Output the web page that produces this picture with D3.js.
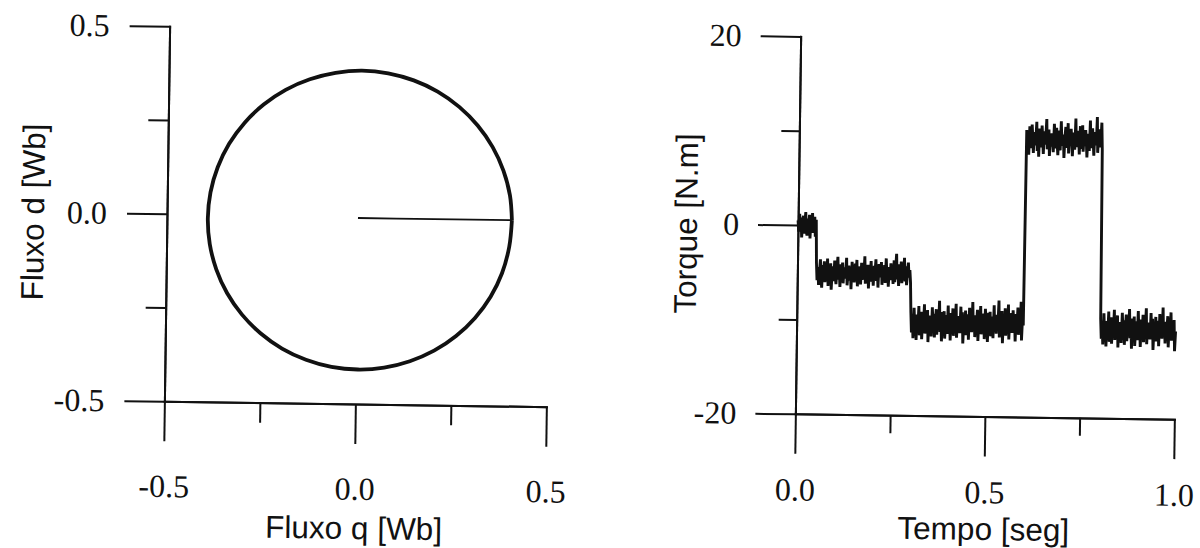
<!DOCTYPE html>
<html>
<head>
<meta charset="utf-8">
<script src="https://cdn.jsdelivr.net/npm/d3@7"></script>
<style>
  body { margin: 0; background: #fff; }
  .tick text { font-family: "Liberation Serif", "Times New Roman", serif; font-size: 32px; fill: #111; }
  .axis path, .axis line { stroke: #111; stroke-width: 2px; }
  .title { font-family: "Liberation Sans", Arial, sans-serif; font-size: 31.5px; fill: #111; }
</style>
</head>
<body>
<svg id="fig" width="1200" height="548"></svg>
<script>
// ---- Stator flux trajectory (q, d) [Wb]: build-up along q, then one turn ----
const fluxQ = [0.000, 0.100, 0.200, 0.300, 0.403,
  0.397, 0.379, 0.350, 0.310, 0.261, 0.204, 0.141, 0.074, 0.005,
  -0.064, -0.131, -0.194, -0.251, -0.300, -0.340, -0.369, -0.387, -0.393,
  -0.387, -0.369, -0.340, -0.300, -0.251, -0.194, -0.131, -0.064, 0.005,
  0.074, 0.141, 0.204, 0.261, 0.310, 0.350, 0.379, 0.397, 0.403];
const fluxD = [-0.004, -0.004, -0.004, -0.004, -0.004,
  0.062, 0.128, 0.190, 0.247, 0.296, 0.336, 0.365, 0.383, 0.389,
  0.382, 0.364, 0.335, 0.295, 0.246, 0.189, 0.126, 0.059, -0.010,
  -0.079, -0.146, -0.209, -0.266, -0.315, -0.355, -0.384, -0.402, -0.408,
  -0.402, -0.384, -0.355, -0.315, -0.266, -0.209, -0.146, -0.075, -0.004];
const fluxTicksMajor = [-0.5, 0.0, 0.5];
const fluxTicksMinor = [-0.25, 0.25];
const fluxTickLabels = ["-0.5", "0.0", "0.5"];

// ---- Electromagnetic torque [N.m] vs time [s], one array per load step ----
const stepTimes = [0, 0.050, 0.301, 0.600, 0.802, 1.0];
const torqueSeg0 = [0.5, -0.7, 1.2, -0.2, 0.8, -1.3, 0.3, 1.0, -0.9, 0.1, 1.4, -0.6, -1.1, 0.7, -0.3, 1.1,
  -1.4, 0.4, -0.5, 1.3, -0.8, 0.2, 0.9, -1.2, 0.6];
const torqueSeg1 = [-3.9, -5.8, -4.4, -6.3, -4.9, -3.6, -5.5, -6.6, -4.2, -5.1, -3.8, -6.0, -4.7, -5.6, -3.5,
  -6.4, -4.5, -5.3, -4.0, -6.8, -5.0, -4.3, -5.9, -3.7, -5.4, -6.2, -4.6, -3.3, -5.7, -4.8, -6.5, -4.1, -5.2,
  -3.9, -6.1, -4.4, -5.6, -4.9, -3.4, -6.3, -5.1, -4.2, -5.8, -4.7, -6.7, -3.8, -5.3, -4.5, -6.0, -4.0, -5.5,
  -3.6, -6.4, -4.8, -5.0, -4.3, -6.2, -3.9, -5.7, -4.6, -5.2, -3.2, -6.1, -4.9, -5.6, -4.1, -6.6, -4.4, -5.3,
  -3.7, -5.9, -4.8, -6.3, -4.2, -5.0, -3.5, -5.8, -4.6, -6.5, -4.0, -5.4, -4.9, -3.8, -6.2, -4.5, -5.5, -4.1,
  -6.0, -3.4, -5.1, -4.7, -6.4, -4.3, -5.7, -3.9, -5.2, -4.6, -6.1, -3.6, -5.9, -4.4, -2.9, -5.6, -4.8, -6.3,
  -4.0, -5.3, -3.7, -6.0, -4.5, -5.5, -3.3, -5.8, -4.2, -6.2, -4.9, -3.8, -5.4, -4.6, -5.9];
const torqueSeg2 = [-9.1, -11.2, -9.7, -11.8, -8.6, -10.6, -9.9, -12.0, -9.3, -10.9, -8.4, -11.5, -10.1, -9.0,
  -11.9, -9.6, -10.7, -8.2, -11.3, -9.8, -10.4, -8.8, -12.2, -9.4, -11.0, -9.9, -11.6, -8.5, -10.3, -9.2, -11.7,
  -10.0, -8.7, -11.4, -9.5, -10.8, -7.8, -11.1, -9.7, -12.1, -9.0, -10.5, -8.9, -11.8, -10.2, -9.3, -11.3, -8.3,
  -10.6, -9.8, -12.0, -9.1, -10.9, -8.6, -11.5, -9.6, -10.1, -8.1, -11.7, -9.4, -10.7, -9.9, -11.2, -8.4, -10.4,
  -9.0, -12.3, -9.7, -10.8, -8.8, -11.4, -10.0, -9.2, -11.9, -8.5, -10.5, -9.6, -11.1, -7.9, -10.9, -9.3, -11.6,
  -9.8, -10.2, -8.7, -12.0, -9.5, -10.7, -8.3, -11.3, -9.9, -10.6, -9.1, -11.8, -8.6, -10.3, -9.7, -12.1, -9.0,
  -11.0, -8.9, -11.5, -10.1, -9.4, -11.7, -8.2, -10.8, -9.6, -11.2, -9.2, -10.4, -7.7, -11.6, -9.8, -10.0, -8.8,
  -12.2, -9.3, -10.9, -8.5, -11.4, -9.9, -10.5, -8.1, -11.8, -9.5, -10.7, -9.0, -11.1, -8.7, -10.2, -9.7, -12.0,
  -9.1, -10.6, -8.4, -11.3, -9.6, -10.8, -7.8, -11.9, -9.4, -10.3];
const torqueSeg3 = [10.4, 8.3, 9.9, 7.8, 10.8, 9.0, 8.5, 11.0, 9.6, 8.0, 10.2, 8.8, 9.4, 11.3, 8.2, 9.8, 7.6,
  10.6, 9.2, 8.6, 10.9, 9.5, 7.9, 10.3, 8.9, 9.7, 11.6, 8.4, 9.1, 10.5, 7.7, 9.9, 8.7, 10.1, 9.3, 8.1, 11.1, 9.6,
  8.5, 10.7, 9.0, 7.8, 10.4, 9.4, 8.3, 11.4, 9.2, 8.8, 10.0, 7.5, 9.7, 10.8, 8.6, 9.1, 11.2, 8.0, 9.8, 8.9, 10.6,
  9.3, 7.7, 10.2, 9.5, 8.4, 11.7, 9.0, 8.7, 10.4, 9.6, 7.9, 10.9, 8.5, 9.2, 11.0, 8.2, 9.9, 8.8, 10.5, 9.4, 7.6,
  10.1, 9.7, 8.3, 11.5, 9.1, 8.6, 10.7, 9.3, 7.8, 10.3, 9.5, 8.9, 11.9, 8.1, 9.8, 10.6, 8.7, 9.2, 11.3, 8.4];
const torqueSeg4 = [-9.5, -11.6, -10.1, -12.2, -8.9, -11.0, -10.4, -12.4, -9.7, -11.3, -8.7, -11.9, -10.6, -9.3,
  -12.1, -10.0, -11.1, -8.5, -11.7, -10.2, -10.8, -9.1, -12.5, -9.8, -11.4, -10.3, -12.0, -8.8, -10.7, -9.6,
  -12.2, -10.4, -9.0, -11.8, -9.9, -11.2, -8.4, -11.5, -10.1, -12.6, -9.4, -10.9, -9.2, -12.3, -10.6, -9.7,
  -11.7, -8.6, -11.0, -10.2, -12.4, -9.5, -11.3, -9.0, -11.9, -10.0, -10.5, -8.3, -12.1, -9.8, -11.1, -10.3,
  -11.6, -8.8, -10.8, -9.4, -12.7, -10.1, -11.2, -9.2, -11.8, -10.4, -9.6, -12.3, -8.9, -10.9, -10.0, -11.5,
  -8.2, -11.3, -9.7, -12.0, -10.2, -10.6, -9.1, -12.4, -9.9, -11.1, -8.7, -11.7, -10.3, -11.0, -9.5, -12.8, -10.7];
const torqueSegments = [torqueSeg0, torqueSeg1, torqueSeg2, torqueSeg3, torqueSeg4];
const timeTicksMajor = [0.0, 0.5, 1.0];
const timeTicksMinor = [0.25, 0.75];
const timeTickLabels = ["0.0", "0.5", "1.0"];
const torqueTicksMajor = [-20, 0, 20];
const torqueTicksMinor = [-10, 10];
const torqueTickLabels = ["-20", "0", "20"];

const svg = d3.select("#fig");
const tilt = 0.8; // degrees, slight clockwise tilt of both panels

function labelFrom(values, labels) {
  return v => labels[values.indexOf(v)];
}

function drawFrame(g, x, y, o) {
  g.append("g").attr("class", "axis")
    .attr("transform", `translate(${x.range()[0]},0)`)
    .call(d3.axisLeft(y).tickValues(o.yMajor).tickSize(o.majorLen).tickSizeOuter(0)
      .tickPadding(o.yPad).tickFormat(labelFrom(o.yMajor, o.yLabels)));
  g.append("g").attr("class", "axis")
    .attr("transform", `translate(${x.range()[0]},0)`)
    .call(d3.axisLeft(y).tickValues(o.yMinor).tickSize(o.minorLen).tickSizeOuter(0).tickFormat(""));
  g.append("g").attr("class", "axis")
    .attr("transform", `translate(0,${y.range()[0]})`)
    .call(d3.axisBottom(x).tickValues(o.xMajor).tickSize(o.majorLen).tickSizeOuter(0)
      .tickPadding(o.xPad).tickFormat(labelFrom(o.xMajor, o.xLabels)));
  g.append("g").attr("class", "axis")
    .attr("transform", `translate(0,${y.range()[0]})`)
    .call(d3.axisBottom(x).tickValues(o.xMinor).tickSize(o.minorLen).tickSizeOuter(0).tickFormat(""));
  g.selectAll(".axis path.domain").attr("stroke-linecap", "square");

  g.append("text").attr("class", "title")
    .attr("x", (x.range()[0] + x.range()[1]) / 2).attr("y", o.xTitleY)
    .attr("text-anchor", "middle").text(o.xTitle);
  g.append("text").attr("class", "title")
    .attr("transform", `translate(${o.yTitleX},${(y.range()[0] + y.range()[1]) / 2}) rotate(-90)`)
    .attr("text-anchor", "middle").text(o.yTitle);
}

// ---- Left panel: flux locus ----
{
  const x = d3.scaleLinear().domain([-0.5, 0.5]).range([167, 549]);
  const y = d3.scaleLinear().domain([-0.5, 0.5]).range([404, 29]);
  const g = svg.append("g").attr("transform", `rotate(${tilt},358,216)`);
  drawFrame(g, x, y, {
    yMajor: fluxTicksMajor, yMinor: fluxTicksMinor, yLabels: fluxTickLabels,
    xMajor: fluxTicksMajor, xMinor: fluxTicksMinor, xLabels: fluxTickLabels,
    majorLen: 40, minorLen: 20, yPad: 20, xPad: 33,
    xTitle: "Fluxo q [Wb]", xTitleY: 539, yTitle: "Fluxo d [Wb]", yTitleX: 44
  });
  const pts = fluxQ.map((q, i) => [q, fluxD[i]]);
  // radial build-up
  g.append("path")
    .attr("d", d3.line().x(d => x(d[0])).y(d => y(d[1]))(pts.slice(0, 5)))
    .attr("fill", "none").attr("stroke", "#111").attr("stroke-width", 1.8);
  // rotating flux circle
  g.append("path")
    .attr("d", d3.line().curve(d3.curveCatmullRom).x(d => x(d[0])).y(d => y(d[1]))(pts.slice(4)))
    .attr("fill", "none").attr("stroke", "#111").attr("stroke-width", 3.8);
}

// ---- Right panel: torque ----
{
  const x = d3.scaleLinear().domain([0, 1]).range([798, 1177]);
  const y = d3.scaleLinear().domain([-20, 20]).range([416.5, 39]);
  const g = svg.append("g").attr("transform", `rotate(${tilt},987,228)`);
  drawFrame(g, x, y, {
    yMajor: torqueTicksMajor, yMinor: torqueTicksMinor, yLabels: torqueTickLabels,
    xMajor: timeTicksMajor, xMinor: timeTicksMinor, xLabels: timeTickLabels,
    majorLen: 40, minorLen: 18, yPad: 19, xPad: 24,
    xTitle: "Tempo [seg]", xTitleY: 540, yTitle: "Torque [N.m]", yTitleX: 697
  });
  const samples = [];
  torqueSegments.forEach((seg, k) => {
    const t0 = stepTimes[k], t1 = stepTimes[k + 1];
    const last = k === torqueSegments.length - 1;
    seg.forEach((v, i) => {
      const t = t0 + (t1 - t0) * i / (last ? seg.length - 1 : seg.length);
      samples.push([t, v]);
    });
  });
  g.append("path")
    .attr("d", d3.line().x(d => x(d[0])).y(d => y(d[1]))(samples))
    .attr("fill", "none").attr("stroke", "#111").attr("stroke-width", 2.9)
    .attr("stroke-linejoin", "miter");
}
</script>
</body>
</html>
